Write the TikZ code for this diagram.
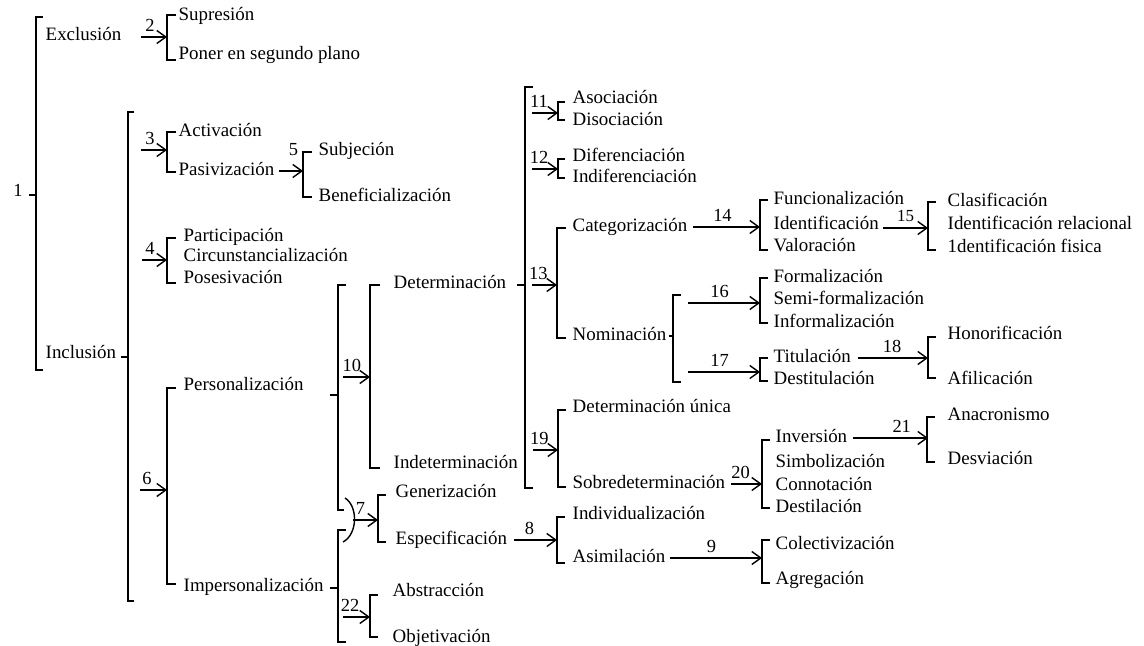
\documentclass[tikz,border=0pt]{standalone}
\usepackage{fontspec}
\setmainfont{Liberation Serif}
\usetikzlibrary{arrows.meta}

\begin{document}
\begin{tikzpicture}[x=1bp, y=-1bp, line width=1.4bp,
        txt/.style={anchor=west, inner sep=0pt, text height=13bp, text depth=4bp, font=\fontsize{19}{22}\selectfont},
        num/.style={inner sep=1pt, font=\fontsize{18.5}{21}\selectfont},
        lbl/.style={num, above=4bp},
        arr/.style={-{Straight Barb[length=9bp,width=13bp]}}]
                \useasboundingbox (0,0) rectangle (1144,646);
                \node[num] (n1) at (18,190) {1};
                \node[txt] (excl) at (45,36) {Exclusión};
                \node[txt] (incl) at (45,354) {Inclusión};
                \node[txt] (supr) at (178,16) {Supresión};
                \node[txt] (fondo) at (178,55) {Poner en segundo plano};
                \node[txt] (activ) at (178,132) {Activación};
                \node[txt] (pasiv) at (178,171) {Pasivización};
                \node[txt] (subj) at (318,151) {Subjeción};
                \node[txt] (benef) at (318,197) {Beneficialización};
                \node[txt] (partic) at (183,237) {Participación};
                \node[txt] (circ) at (183,257) {Circunstancialización};
                \node[txt] (poses) at (183,279) {Posesivación};
                \node[txt] (pers) at (183,386) {Personalización};
                \node[txt] (imper) at (183,587) {Impersonalización};
                \node[txt] (deter) at (393,284) {Determinación};
                \node[txt] (indet) at (393,464) {Indeterminación};
                \node[txt] (gener) at (395,493) {Generización};
                \node[txt] (espec) at (395,540) {Especificación};
                \node[txt] (abstr) at (392,592) {Abstracción};
                \node[txt] (objet) at (392,638) {Objetivación};
                \node[txt] (asoc) at (572,99) {Asociación};
                \node[txt] (disoc) at (572,121) {Disociación};
                \node[txt] (difer) at (572,157) {Diferenciación};
                \node[txt] (indif) at (572,178) {Indiferenciación};
                \node[txt] (categ) at (572,227) {Categorización};
                \node[txt] (nomin) at (572,336) {Nominación};
                \node[txt] (func) at (773,200) {Funcionalización};
                \node[txt] (ident) at (773,225) {Identificación};
                \node[txt] (valor) at (773,247) {Valoración};
                \node[txt] (clasif) at (947,202) {Clasificación};
                \node[txt] (idrel) at (947,225) {Identificación relacional};
                \node[txt] (idfis) at (947,248) {1dentificación fisica};
                \node[txt] (formal) at (773,278) {Formalización};
                \node[txt] (semi) at (773,300) {Semi-formalización};
                \node[txt] (inform) at (773,323) {Informalización};
                \node[txt] (titul) at (773,358) {Titulación};
                \node[txt] (destit) at (773,380) {Destitulación};
                \node[txt] (honor) at (947,335) {Honorificación};
                \node[txt] (afil) at (947,380) {Afilicación};
                \node[txt] (unica) at (572,408) {Determinación única};
                \node[txt] (sobre) at (572,484) {Sobredeterminación};
                \node[txt] (inver) at (775,438) {Inversión};
                \node[txt] (simbol) at (775,463) {Simbolización};
                \node[txt] (connot) at (775,486) {Connotación};
                \node[txt] (destil) at (775,508) {Destilación};
                \node[txt] (indiv) at (572,515) {Individualización};
                \node[txt] (asimil) at (572,558) {Asimilación};
                \node[txt] (colect) at (775,545) {Colectivización};
                \node[txt] (agreg) at (775,580) {Agregación};
                \node[txt] (anacr) at (947,416) {Anacronismo};
                \node[txt] (desv) at (947,460) {Desviación};

                % brackets
                \draw (43,17) -| (36,370) -- (43,370);
                \draw (29,195) -- (36,195);
                \draw (176,15) -| (167,60) -- (176,60);
                \draw (134,112) -| (128,601) -- (134,601);
                \draw (121,357) -- (128,357);
                \draw (176,132) -| (167,172) -- (176,172);
                \draw (312,152) -| (303,197) -- (312,197);
                \draw (176,238) -| (167,283) -- (176,283);
                \draw (176,388) -| (167,584) -- (176,584);
                \draw (346,285) -| (338,510) -- (344,510);
                \draw (330,395) -- (338,395);
                \draw (345,498) .. controls (358,506) and (358,534) .. (343,542);
                \draw (346,530) -| (338,642) -- (346,642);
                \draw (330,588) -- (338,588);
                \draw (380,285) -| (370,468) -- (380,468);
                \draw (386,495) -| (378,542) -- (386,542);
                \draw (378,595) -| (370,637) -- (378,637);
                \draw (533,87) -| (525,488) -- (533,488);
                \draw (517,285) -- (525,285);
                \draw (565,102) -| (558,120) -- (565,120);
                \draw (565,159) -| (558,178) -- (565,178);
                \draw (566,228) -| (557,338) -- (566,338);
                \draw (768,200) -| (760,250) -- (768,250);
                \draw (936,202) -| (928,250) -- (936,250);
                \draw (681,295) -| (673,382) -- (681,382);
                \draw ([xshift=2bp]nomin.east) -- (673,336);
                \draw (768,278) -| (760,323) -- (768,323);
                \draw (768,358) -| (760,381) -- (768,381);
                \draw (936,337) -| (928,378) -- (936,378);
                \draw (566,410) -| (558,487) -- (566,487);
                \draw (770,440) -| (762,508) -- (770,508);
                \draw (935,417) -| (927,462) -- (935,462);
                \draw (565,517) -| (557,563) -- (565,563);
                \draw (770,540) -| (762,583) -- (770,583);

                \coordinate (s2) at (141,37);   \coordinate (b2) at (167,37);
                \coordinate (s3) at (141,150);  \coordinate (b3) at (167,150);
                \coordinate (s4) at (142,260);  \coordinate (b4) at (167,260);
                \coordinate (s6) at (140,490);  \coordinate (b6) at (167,490);
                \coordinate (b5) at (303,171);
                \coordinate (s10) at (343,377); \coordinate (b10) at (370,377);
                \coordinate (s7) at (353,520);  \coordinate (b7) at (378,520);
                \coordinate (s22) at (343,617); \coordinate (b22) at (370,617);
                \coordinate (s11) at (532,113); \coordinate (b11) at (558,113);
                \coordinate (s12) at (532,169); \coordinate (b12) at (558,169);
                \coordinate (s13) at (532,285); \coordinate (b13) at (557,285);
                \coordinate (s19) at (533,450); \coordinate (b19) at (558,450);
                \coordinate (b14) at (760,227);
                \coordinate (s15) at (883,228); \coordinate (b15) at (928,228);
                \coordinate (s16) at (688,303); \coordinate (b16) at (760,303);
                \coordinate (s17) at (688,372); \coordinate (b17) at (760,372);
                \coordinate (b18) at (928,358);
                \coordinate (b20) at (762,484);
                \coordinate (b21) at (928,438);
                \coordinate (b8) at (557,540);
                \coordinate (b9) at (762,558);

                % arrows
                \draw[arr] (s2) -- (b2) node[lbl, pos=.35] (n2) {2};
                \draw[arr] (s3) -- (b3) node[lbl, pos=.35] (n3) {3};
                \draw[arr] (s4) -- (b4) node[lbl, pos=.32] (n4) {4};
                \draw[arr] (s6) -- (b6) node[lbl, pos=.26] (n6) {6};
                \draw[arr] ([xshift=4bp]pasiv.east) -- (b5) node[lbl, pos=.6, above=10bp] (n5) {5};
                \draw[arr] (s10) -- (b10) node[lbl, pos=.33] (n10) {10};
                \draw[arr] (s7) -- (b7) node[lbl, pos=.3] (n7) {7};
                \draw[arr] (s22) -- (b22) node[lbl, pos=.26] (n22) {22};
                \draw[arr] (s11) -- (b11) node[lbl, pos=.27] (n11) {11};
                \draw[arr] (s12) -- (b12) node[lbl, pos=.27] (n12) {12};
                \draw[arr] (s13) -- (b13) node[lbl, pos=.25] (n13) {13};
                \draw[arr] (s19) -- (b19) node[lbl, pos=.25] (n19) {19};
                \draw[arr] ([xshift=5bp]categ.east) -- (b14) node[lbl, pos=.44] (n14) {14};
                \draw[arr] (s15) -- (b15) node[lbl, pos=.5, above=1bp, font=\fontsize{17}{20}\selectfont] (n15) {15};
                \draw[arr] (s16) -- (b16) node[lbl, pos=.44] (n16) {16};
                \draw[arr] (s17) -- (b17) node[lbl, pos=.44] (n17) {17};
                \draw[arr] ([xshift=6bp]titul.east) -- (b18) node[lbl, pos=.49] (n18) {18};
                \draw[arr] ([xshift=5bp]sobre.east) -- (b20) node[lbl, pos=.31] (n20) {20};
                \draw[arr] ([xshift=5bp]inver.east) -- (b21) node[lbl, pos=.65] (n21) {21};
                \draw[arr] ([xshift=6bp]espec.east) -- (b8) node[lbl, pos=.36] (n8) {8};
                \draw[arr] ([xshift=4bp]asimil.east) -- (b9) node[lbl, pos=.45] (n9) {9};
        \end{tikzpicture}
\end{document}
